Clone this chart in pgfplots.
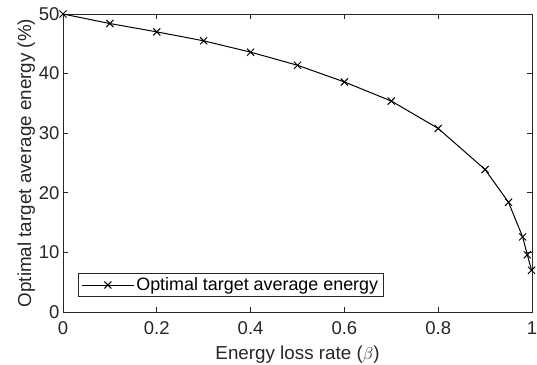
\documentclass[border=0pt]{standalone}
\usepackage{pgfplots}
\pgfplotsset{compat=1.18}
\usepackage{fontspec}
\setmainfont{Liberation Sans}
\definecolor{axgray}{gray}{0.15}
\begin{document}
\begin{tikzpicture}
\useasboundingbox (-63bp,-53bp) rectangle (474bp,312bp);
\begin{axis}[
  scale only axis,
  width=469bp, height=298bp,
  xmin=0, xmax=1, ymin=0, ymax=50,
  xtick={0,0.2,0.4,0.6,0.8,1},
  ytick={0,10,20,30,40,50},
  tick align=inside,
  major tick length=5bp,
  axis line style={axgray, line width=0.7bp},
  tick style={axgray, line width=0.7bp},
  ticklabel style={text=axgray, font=\fontsize{18.5bp}{22bp}\selectfont},
  xticklabel style={yshift=-6bp},
  label style={text=axgray, font=\fontsize{18.8bp}{22bp}\selectfont},
  /pgf/number format/assume math mode=true,
  xlabel={Energy loss rate ($\beta$)},
  ylabel={Optimal target average energy (\%)},
  xlabel style={at={(axis description cs:0.5,0)}, anchor=center, yshift=-43bp},
  ylabel style={yshift=-3bp},
  legend style={at={(0.032,0.05)}, anchor=south west, draw=axgray, line width=0.7bp,
    font=\fontsize{17.9bp}{21bp}\selectfont, inner xsep=3bp, inner ysep=2.5bp},
  legend cell align=left,
  legend image code/.code={
    \draw[mark repeat=2, mark phase=2, #1] plot coordinates {(0bp,0bp) (26bp,0bp) (52bp,0bp)};
  },
]
\addplot[black, line width=1bp, mark=x, mark size=5bp, mark options={line width=1bp}] coordinates {
(0,50.0) (0.1,48.4) (0.2,47.0) (0.3,45.5) (0.4,43.6) (0.5,41.4) (0.6,38.6) (0.7,35.4) (0.8,30.8) (0.9,23.9) (0.95,18.4) (0.98,12.6) (0.99,9.6) (0.999,7.0)
};
\addlegendentry{Optimal target average energy}
\end{axis}
\end{tikzpicture}
\end{document}
